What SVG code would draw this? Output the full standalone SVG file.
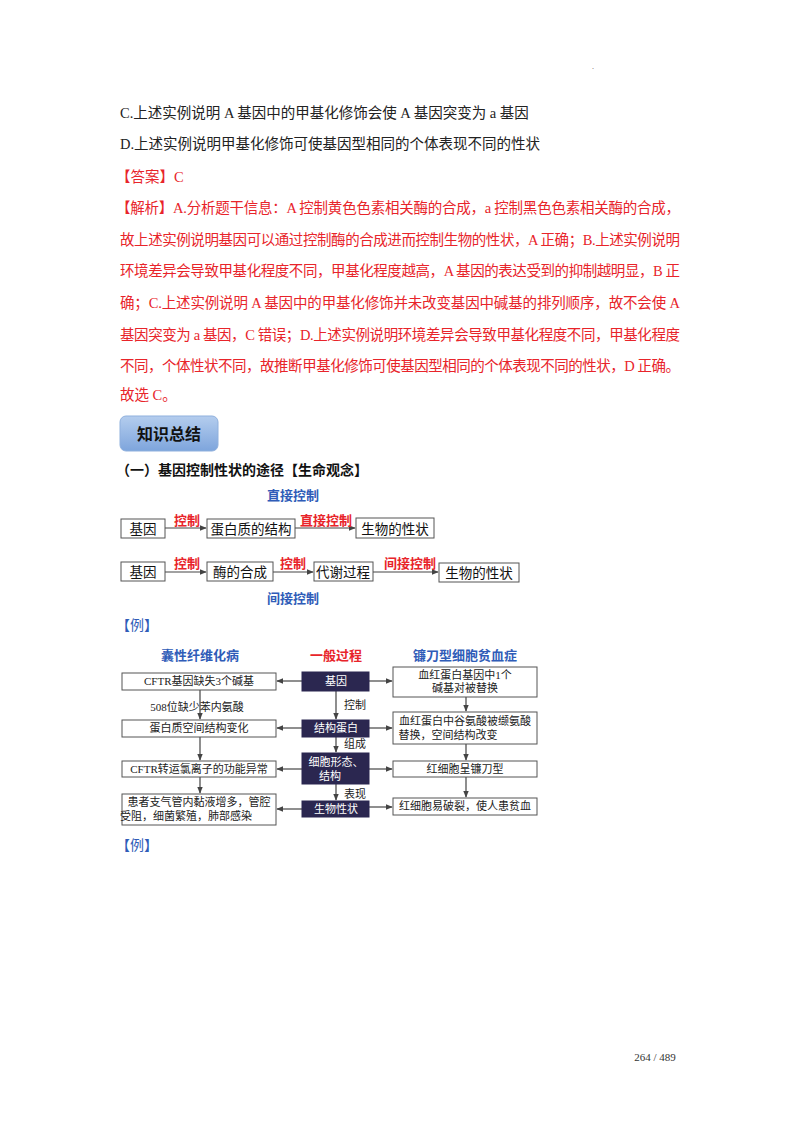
<svg xmlns="http://www.w3.org/2000/svg" width="800" height="1132" viewBox="0 0 800 1132">
<defs>
<style>
text{font-family:"Liberation Serif","Noto Sans CJK SC",serif;}
.b{font-size:14.5px;fill:#222}
.r{font-size:14.5px;fill:#e8242a}
.bx{fill:#fff;stroke:#555;stroke-width:1}
.dk{fill:#2b2750;stroke:#2b2750}
.t{font-size:13.5px;fill:#111;text-anchor:middle}
.s{font-size:11px;fill:#222;text-anchor:middle}
.w{font-size:11px;fill:#fff;text-anchor:middle}
.lr{font-size:13px;fill:#e8242a;text-anchor:middle;font-weight:bold}
.lb{font-size:13px;fill:#2f5cb8;text-anchor:middle;font-weight:bold}
.ln{stroke:#444;stroke-width:1.2;fill:none;marker-end:url(#a)}
</style>
<marker id="a" viewBox="0 0 10 10" refX="9" refY="5" markerWidth="6" markerHeight="6" orient="auto"><path d="M0,1 L10,5 L0,9 z" fill="#444"/></marker>
<linearGradient id="g" x1="0" y1="0" x2="0" y2="1"><stop offset="0" stop-color="#b4cdee"/><stop offset="1" stop-color="#7ea5dc"/></linearGradient>
</defs>
<rect width="800" height="1132" fill="#fff"/>
<text x="592" y="69" font-size="8" fill="#555">.</text>
<text class="b" x="120" y="118">C.上述实例说明 A 基因中的甲基化修饰会使 A 基因突变为 a 基因</text>
<text class="b" x="120" y="149">D.上述实例说明甲基化修饰可使基因型相同的个体表现不同的性状</text>
<text class="r" x="116" y="182">【答案】C</text>
<text class="r" x="116" y="213" textLength="564">【解析】A.分析题干信息：A 控制黄色色素相关酶的合成，a 控制黑色色素相关酶的合成，</text>
<text class="r" x="120" y="245" textLength="560">故上述实例说明基因可以通过控制酶的合成进而控制生物的性状，A 正确；B.上述实例说明</text>
<text class="r" x="120" y="276" textLength="560">环境差异会导致甲基化程度不同，甲基化程度越高，A 基因的表达受到的抑制越明显，B 正</text>
<text class="r" x="120" y="308" textLength="560">确；C.上述实例说明 A 基因中的甲基化修饰并未改变基因中碱基的排列顺序，故不会使 A</text>
<text class="r" x="120" y="340" textLength="560">基因突变为 a 基因，C 错误；D.上述实例说明环境差异会导致甲基化程度不同，甲基化程度</text>
<text class="r" x="120" y="371" textLength="560">不同，个体性状不同，故推断甲基化修饰可使基因型相同的个体表现不同的性状，D 正确。</text>
<text class="r" x="120" y="400">故选 C。</text>
<rect x="120" y="416" width="98" height="35" rx="6" fill="url(#g)" stroke="#8fb0dd"/>
<text x="169" y="440" font-size="16" font-weight="bold" text-anchor="middle" fill="#111" font-family="Noto Sans CJK SC,sans-serif">知识总结</text>
<text x="116" y="475" font-size="14" font-weight="bold" fill="#111">（一）基因控制性状的途径【生命观念】</text>
<g id="connectors">
<line class="ln" x1="165" y1="528" x2="206" y2="528"/>
<line class="ln" x1="295" y1="528" x2="355" y2="528"/>
<line class="ln" x1="165" y1="572" x2="206" y2="572"/>
<line class="ln" x1="273" y1="572" x2="313" y2="572"/>
<line class="ln" x1="373" y1="572" x2="438" y2="572"/>
<line class="ln" x1="302" y1="681" x2="277" y2="681"/>
<line class="ln" x1="369" y1="681" x2="392" y2="681"/>
<line class="ln" x1="302" y1="728" x2="277" y2="728"/>
<line class="ln" x1="369" y1="728" x2="392" y2="728"/>
<line class="ln" x1="302" y1="769" x2="277" y2="769"/>
<line class="ln" x1="369" y1="769" x2="392" y2="769"/>
<line class="ln" x1="302" y1="809" x2="277" y2="809"/>
<line class="ln" x1="369" y1="807" x2="392" y2="807"/>
<line class="ln" x1="200" y1="690" x2="200" y2="719"/>
<line class="ln" x1="200" y1="737" x2="200" y2="760"/>
<line class="ln" x1="200" y1="777" x2="200" y2="793"/>
<line class="ln" x1="336" y1="691" x2="336" y2="719"/>
<line class="ln" x1="336" y1="737" x2="336" y2="752"/>
<line class="ln" x1="336" y1="784" x2="336" y2="800"/>
<line class="ln" x1="466" y1="697" x2="466" y2="711"/>
<line class="ln" x1="466" y1="744" x2="466" y2="760"/>
<line class="ln" x1="466" y1="777" x2="466" y2="797"/>
</g>
<text class="lb" x="293" y="500">直接控制</text>
<text class="lr" x="187" y="525">控制</text>
<text class="lr" x="326" y="525">直接控制</text>
<g id="n1"><rect class="bx" x="121" y="519" width="44" height="19"/><text class="t" x="143" y="534">基因</text></g>
<g id="n2"><rect class="bx" x="207" y="519" width="88" height="19"/><text class="t" x="251" y="534">蛋白质的结构</text></g>
<g id="n3"><rect class="bx" x="356" y="518" width="78" height="20"/><text class="t" x="395" y="534">生物的性状</text></g>
<text class="lr" x="187" y="568">控制</text>
<text class="lr" x="293" y="568">控制</text>
<text class="lr" x="410" y="568">间接控制</text>
<g id="n4"><rect class="bx" x="121" y="562" width="44" height="19"/><text class="t" x="143" y="577">基因</text></g>
<g id="n5"><rect class="bx" x="207" y="562" width="66" height="19"/><text class="t" x="240" y="577">酶的合成</text></g>
<g id="n6"><rect class="bx" x="314" y="562" width="59" height="19"/><text class="t" x="343" y="577">代谢过程</text></g>
<g id="n7"><rect class="bx" x="439" y="563" width="80" height="19"/><text class="t" x="479" y="578">生物的性状</text></g>
<text class="lb" x="293" y="603">间接控制</text>
<text x="116" y="630" font-size="14" fill="#2f5cb8">【例】</text>
<text class="lb" x="200" y="660">囊性纤维化病</text>
<text class="lr" x="336" y="660">一般过程</text>
<text class="lb" x="465" y="660">镰刀型细胞贫血症</text>
<g id="l1"><rect class="bx" x="122" y="673" width="154" height="17"/><text class="s" x="199" y="685">CFTR基因缺失3个碱基</text></g>
<g id="l2"><rect class="bx" x="122" y="720" width="154" height="17"/><text class="s" x="199" y="732">蛋白质空间结构变化</text></g>
<g id="l3"><rect class="bx" x="122" y="761" width="154" height="16"/><text class="s" x="199" y="773">CFTR转运氯离子的功能异常</text></g>
<g id="l4"><rect class="bx" x="122" y="794" width="154" height="31"/><text class="s" x="199" y="806">患者支气管内黏液增多，管腔</text><text class="s" x="186" y="820">受阻，细菌繁殖，肺部感染</text></g>
<g id="m1"><rect class="dk" x="302" y="672" width="67" height="19"/><text class="w" x="336" y="685">基因</text></g>
<g id="m2"><rect class="dk" x="302" y="720" width="67" height="17"/><text class="w" x="336" y="732">结构蛋白</text></g>
<g id="m3"><rect class="dk" x="302" y="753" width="67" height="31"/><text class="w" x="336" y="766">细胞形态、</text><text class="w" x="330" y="780">结构</text></g>
<g id="m4"><rect class="dk" x="302" y="801" width="67" height="16"/><text class="w" x="336" y="813">生物性状</text></g>
<g id="r1"><rect class="bx" x="393" y="667" width="144" height="30"/><text class="s" x="465" y="679">血红蛋白基因中1个</text><text class="s" x="465" y="692">碱基对被替换</text></g>
<g id="r2"><rect class="bx" x="393" y="712" width="144" height="32"/><text class="s" x="465" y="725">血红蛋白中谷氨酸被缬氨酸</text><text class="s" x="448" y="739">替换，空间结构改变</text></g>
<g id="r3"><rect class="bx" x="393" y="761" width="144" height="16"/><text class="s" x="465" y="773">红细胞呈镰刀型</text></g>
<g id="r4"><rect class="bx" x="393" y="798" width="144" height="17"/><text class="s" x="465" y="810">红细胞易破裂，使人患贫血</text></g>
<text class="s" x="197" y="711">508位缺少苯内氨酸</text>
<text class="s" x="355" y="709">控制</text>
<text class="s" x="355" y="748">组成</text>
<text class="s" x="355" y="798">表现</text>
<text x="116" y="850" font-size="14" fill="#2f5cb8">【例】</text>
<text x="655" y="1061" font-size="11" fill="#333" text-anchor="middle" font-family="Liberation Sans,sans-serif">264 / 489</text>
</svg>
